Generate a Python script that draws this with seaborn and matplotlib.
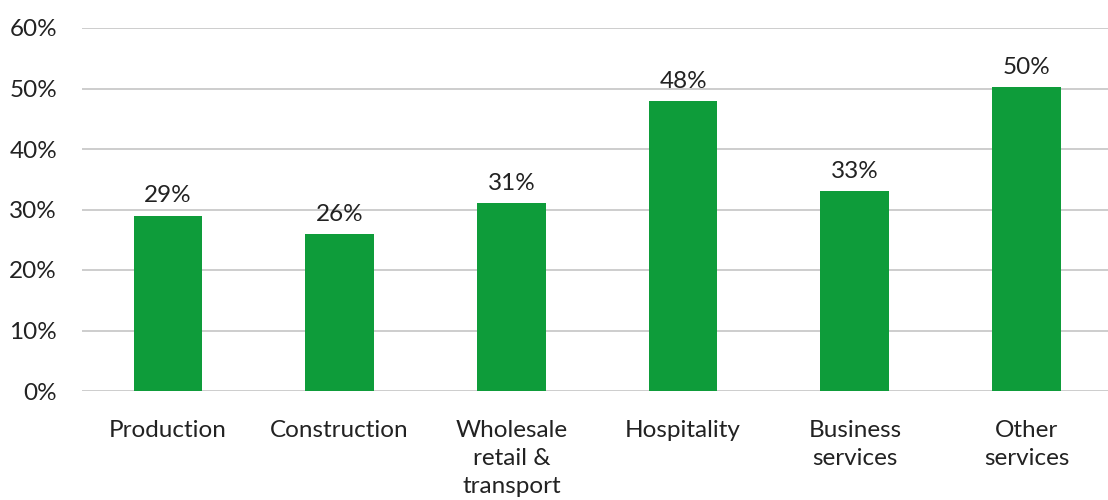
import matplotlib
matplotlib.use("Agg")
import matplotlib.pyplot as plt
import seaborn as sns
import pandas as pd

sectors = ["Production", "Construction", "Wholesale\nretail &\ntransport",
           "Hospitality", "Business\nservices", "Other\nservices"]
shares = [29, 26, 31, 48, 33, 50.2]
y_ticks = [0, 10, 20, 30, 40, 50, 60]

sns.set_theme(style="white")
plt.rcParams["font.family"] = ["Lato", "DejaVu Sans"]

FS = 17.5
TXT = "#222222"

df = pd.DataFrame({"sector": sectors, "share": shares})

fig = plt.figure(figsize=(11.08, 5.0), dpi=100)
ax = fig.add_axes([0.074, 0.218, 0.93, 0.726])

ax.set_axisbelow(True)
for t in y_ticks:
    ax.axhline(t, color="#c9c9c9", linewidth=1.3, zorder=0)

sns.barplot(data=df, x="sector", y="share", color="#0e9c3a", saturation=1,
            width=0.4, linewidth=0, ax=ax, zorder=2)

for i, v in enumerate(shares):
    ax.text(i, v + 1.5, f"{v:.0f}%", ha="center", va="bottom",
            fontsize=FS, color=TXT)

ax.set_ylim(0, 60)
ax.set_xlim(-0.5, len(sectors) - 0.5)
ax.set_yticks(y_ticks)
ax.set_yticklabels([f"{t}%" for t in y_ticks], fontsize=FS, color=TXT)
ax.set_xticks(range(len(sectors)))
ax.set_xticklabels(sectors, fontsize=FS, color=TXT, linespacing=1.4)
ax.tick_params(axis="x", pad=21, length=0)
ax.tick_params(axis="y", pad=18, length=0)
ax.set_xlabel("")
ax.set_ylabel("")
for s in ax.spines.values():
    s.set_visible(False)

fig.savefig("out.png", dpi=100)
